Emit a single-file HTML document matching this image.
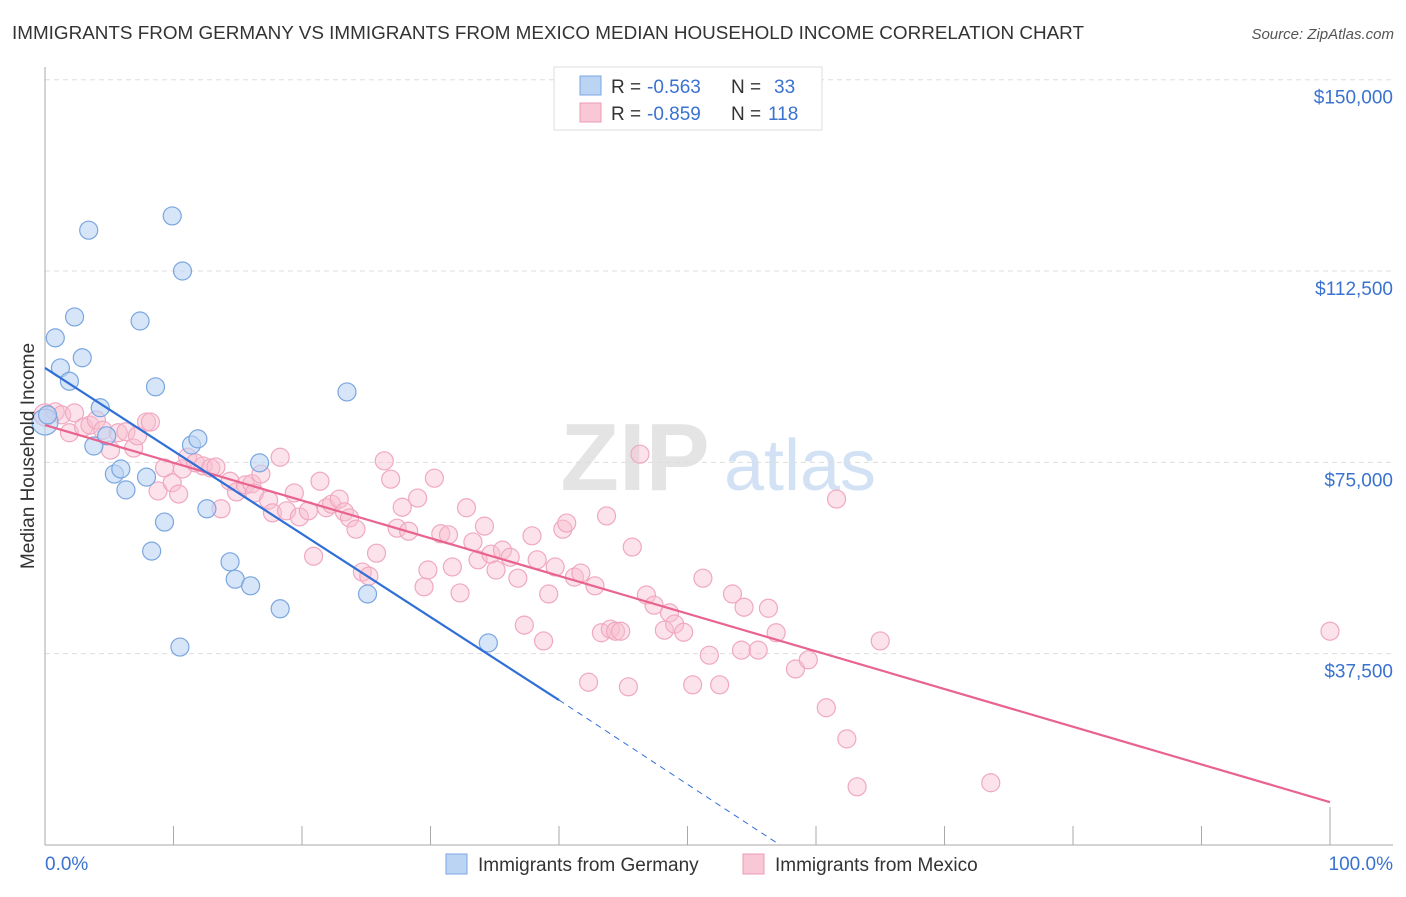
<!DOCTYPE html>
<html><head><meta charset="utf-8"><style>
body{margin:0;background:#fff;font-family:"Liberation Sans",sans-serif}
svg text{font-family:"Liberation Sans",sans-serif}
</style></head><body>
<svg id="chart" width="1406" height="892" xmlns="http://www.w3.org/2000/svg">
<text x="12" y="39" font-size="18" fill="#333" textLength="1072" lengthAdjust="spacingAndGlyphs">IMMIGRANTS FROM GERMANY VS IMMIGRANTS FROM MEXICO MEDIAN HOUSEHOLD INCOME CORRELATION CHART</text>
<text x="1394" y="39" font-size="15" fill="#555" text-anchor="end" font-style="italic">Source: ZipAtlas.com</text>
<g>
<text x="635" y="490" font-size="96" font-family="Liberation Serif" font-weight="bold" fill="#e4e4e4" text-anchor="middle">ZIP</text>
<text x="800" y="490" font-size="72" fill="#d2e2f4" text-anchor="middle">atlas</text>
</g>
<g id="grid"></g><g id="axes"></g><g id="marks"></g>
<text transform="translate(34,456) rotate(-90)" font-size="19" fill="#333" text-anchor="middle">Median Household Income</text>
<g>
<rect x="554" y="67" width="268" height="63" fill="#fff" stroke="#ddd"/>
<rect x="580" y="76" width="21" height="19" fill="#bcd4f4" stroke="#7aa6e0"/>
<rect x="580" y="103" width="21" height="19" fill="#f9c8d6" stroke="#ec9ab3"/>
<text x="611" y="93" font-size="19" fill="#333">R =</text>
<text x="647" y="93" font-size="19" fill="#3a72d0">-0.563</text>
<text x="731" y="93" font-size="19" fill="#333">N =</text>
<text x="774" y="93" font-size="19" fill="#3a72d0">33</text>
<text x="611" y="120" font-size="19" fill="#333">R =</text>
<text x="647" y="120" font-size="19" fill="#3a72d0">-0.859</text>
<text x="731" y="120" font-size="19" fill="#333">N =</text>
<text x="768" y="120" font-size="19" fill="#3a72d0">118</text>
</g>
<g>
<rect x="446" y="854" width="21" height="20" fill="#bcd4f4" stroke="#7aa6e0"/>
<text x="478" y="871" font-size="19" fill="#333">Immigrants from Germany</text>
<rect x="743" y="854" width="21" height="20" fill="#f9c8d6" stroke="#ec9ab3"/>
<text x="775" y="871" font-size="19" fill="#333">Immigrants from Mexico</text>
</g>
</svg>
<script>
const yTicks=[150000,112500,75000,37500];
const yTickLabels=["$150,000","$112,500","$75,000","$37,500"];
const xTicks=[0,10,20,30,40,50,60,70,80,90,100];
const germanyX=[0,0.2,0.8,1.2,1.9,2.3,2.9,3.4,3.8,4.3,4.8,5.4,5.9,6.3,7.4,7.9,8.3,8.6,9.3,9.9,10.5,10.7,11.4,11.9,12.6,14.4,14.8,16.0,16.7,18.3,23.5,25.1,34.5];
const germanyY=[82900,84300,99400,93500,90900,103500,95500,120500,78200,85700,80200,72700,73700,69600,102700,72100,57600,89800,63300,123300,38800,112500,78400,79600,65900,55500,52100,50800,74900,46300,88800,49200,39600];
const mexicoX=[0,0.8,1.3,1.9,2.3,3.0,3.5,4.0,4.5,5.1,5.7,6.3,6.9,7.2,7.9,8.2,8.8,9.3,9.9,10.4,10.7,11.1,11.7,12.3,12.9,13.3,13.7,14.4,14.9,15.6,16.1,16.3,16.8,17.4,17.7,18.3,18.8,19.4,19.8,20.5,20.9,21.4,21.9,22.3,22.9,23.3,23.7,24.2,24.7,25.2,25.8,26.4,26.9,27.4,27.8,28.3,29.0,29.5,29.8,30.3,30.8,31.4,31.7,32.3,32.8,33.3,33.7,34.2,34.7,35.1,35.6,36.2,36.8,37.3,37.9,38.3,38.8,39.2,39.7,40.3,40.6,41.2,41.7,42.3,42.8,43.3,43.7,44.0,44.4,44.8,45.4,45.7,46.3,46.8,47.4,48.2,48.6,49.0,49.7,50.4,51.2,51.7,52.5,53.5,54.2,54.4,55.5,56.3,56.9,58.4,59.4,60.8,61.6,62.4,63.2,65.0,73.6,100];
const mexicoY=[84300,84900,84300,80800,84700,81900,82300,83300,81300,77400,80800,81000,77800,80200,82900,82900,69400,73900,71000,68800,73700,76000,74900,74300,73900,74100,65900,71300,69200,70600,70800,69000,72700,67600,65100,76000,65500,69000,64300,65500,56600,71300,66100,66800,67800,65300,64100,61900,53500,52700,57200,75300,71700,62100,66200,61500,68000,50600,53900,71900,61000,60800,54500,49400,66100,59400,55900,62500,57000,53900,57800,56400,52300,43100,60600,55900,40000,49200,54500,61900,63100,52500,53300,31900,50800,41600,64500,42300,41900,41900,31000,58400,76600,49000,47000,42100,45500,43300,41700,31400,52300,37200,31400,49200,38200,46600,38200,46400,41600,34500,36300,26900,67800,20800,11400,40000,12200,41900];
const germanyTrend=[[0,93500],[40,28400]];
const germanyTrendExt=[[40,28400],[57.2,0]];
const mexicoTrend=[[0,82300],[100,8400]];
const NS="http://www.w3.org/2000/svg";
const X=p=>45+p*12.85, Y=v=>845-v/196.0;
function mk(t,a,parent){const e=document.createElementNS(NS,t);for(const k in a)e.setAttribute(k,a[k]);document.getElementById(parent).appendChild(e);return e;}
yTicks.forEach((v,i)=>{
 const l=mk('line',{x1:45,x2:1393,y1:Y(v),y2:Y(v),stroke:'#ddd','stroke-dasharray':'5,4'},'grid');
 
 
 const t=mk('text',{x:1393,y:Y(v)+24,'font-size':19,fill:'#3a72d0','text-anchor':'end'},'axes');
 t.textContent=yTickLabels[i];
 
 
});
const ax=mk('line',{x1:45,x2:1393,y1:845,y2:845,stroke:'#aaa'},'axes');


const ay=mk('line',{x1:45,x2:45,y1:67,y2:845,stroke:'#aaa'},'axes');


xTicks.forEach(p=>{
 const l=mk('line',{x1:X(p),x2:X(p),y1:p==100?807:826,y2:845,stroke:'#aaa'},'axes');
 
 
});
[[0,'0.0%','start',45],[100,'100.0%','end',1393]].forEach(d=>{
 const t=mk('text',{x:d[3],y:870,'font-size':19,fill:'#3a72d0','text-anchor':d[2]},'axes');
 t.textContent=d[1];
 
 
});
mexicoX.forEach((p,i)=>{
 const c=mk('circle',{cx:X(p),cy:Y(mexicoY[i]),r:i==0?11:9,fill:'rgba(249,190,208,0.45)',stroke:'#f0a8c0','stroke-width':1.2},'marks');
 
 
});
germanyX.forEach((p,i)=>{
 const c=mk('circle',{cx:X(p),cy:Y(germanyY[i]),r:i==0?13:9,fill:'rgba(188,212,244,0.6)',stroke:'#7aa6e0','stroke-width':1.2},'marks');
 
 
});
const lm=mk('line',{x1:X(mexicoTrend[0][0]),y1:Y(mexicoTrend[0][1]),x2:X(mexicoTrend[1][0]),y2:Y(mexicoTrend[1][1]),stroke:'#e8648e','stroke-width':2.2},'marks');


const lg=mk('line',{x1:X(germanyTrend[0][0]),y1:Y(germanyTrend[0][1]),x2:X(germanyTrend[1][0]),y2:Y(germanyTrend[1][1]),stroke:'#2f6fd6','stroke-width':2.2},'marks');


const lge=mk('line',{x1:X(germanyTrendExt[0][0]),y1:Y(germanyTrendExt[0][1]),x2:X(germanyTrendExt[1][0]),y2:Y(germanyTrendExt[1][1]),stroke:'#2f6fd6','stroke-width':1,'stroke-dasharray':'6,5'},'marks');


</script>
</body></html>
